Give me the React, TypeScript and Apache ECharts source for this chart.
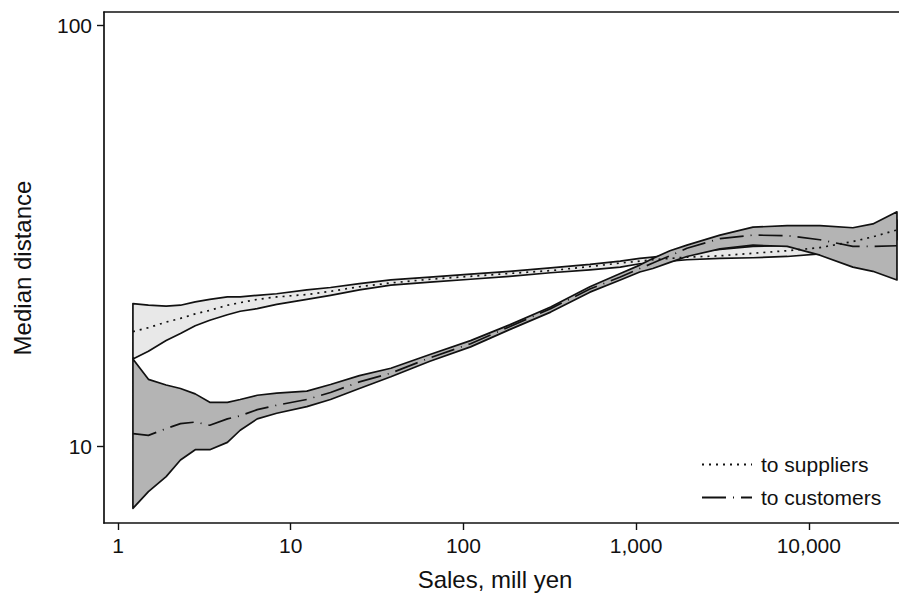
import React, { useEffect, useRef } from 'react';
import * as echarts from 'echarts';

// Sales grid (mill yen)
const sales = [1.22, 1.5, 1.9, 2.3, 2.8, 3.4, 4.3, 5.1, 6.4, 8.3, 12.4, 17, 25, 38, 64, 110, 185, 320, 540, 810, 1050, 1250, 1570, 1970, 3060, 4750, 7500, 11600, 18000, 23500, 32400];

// Median distance to suppliers, with confidence band
const suppliersMedian = [18.7, 19.1, 19.7, 20.1, 20.6, 21.0, 21.6, 21.9, 22.3, 22.6, 22.9, 23.3, 23.9, 24.4, 24.9, 25.3, 25.7, 26.1, 26.7, 27.2, 27.5, 27.7, 27.9, 28.1, 28.3, 28.7, 29.1, 29.6, 30.6, 31.4, 32.6];
const suppliersUpper = [21.8, 21.6, 21.5, 21.6, 22.0, 22.3, 22.6, 22.6, 22.8, 23.0, 23.5, 23.8, 24.3, 24.8, 25.2, 25.6, 26.0, 26.5, 27.0, 27.5, 27.9, 28.1, 28.4, 28.8, 29.3, 29.8, 29.9, 30.5, 31.9, 32.9, 34.4];
const suppliersLower = [16.1, 16.8, 17.8, 18.5, 19.3, 19.9, 20.5, 20.9, 21.2, 21.7, 22.3, 22.8, 23.5, 24.1, 24.5, 24.9, 25.3, 25.8, 26.2, 26.6, 27.1, 27.2, 27.5, 27.7, 27.9, 28.0, 28.2, 28.6, 29.2, 29.9, 30.9];

// Median distance to customers, with confidence band
const customersMedian = [10.7, 10.6, 11.0, 11.3, 11.4, 11.2, 11.6, 11.8, 12.2, 12.5, 12.9, 13.4, 14.2, 14.9, 16.2, 17.5, 19.2, 21.2, 23.6, 25.2, 26.4, 27.2, 28.3, 29.5, 31.1, 31.7, 31.6, 30.9, 29.8, 29.8, 29.9];
const customersUpper = [16.1, 14.4, 13.96, 13.7, 13.3, 12.7, 12.7, 12.9, 13.2, 13.35, 13.5, 14.0, 14.7, 15.3, 16.5, 17.8, 19.4, 21.4, 23.9, 25.7, 26.9, 27.9, 29.1, 30.0, 31.7, 33.1, 33.4, 33.4, 33.0, 33.7, 36.0];
const customersLower = [7.11, 7.79, 8.46, 9.26, 9.8, 9.8, 10.2, 10.9, 11.6, 11.96, 12.4, 12.9, 13.7, 14.6, 15.9, 17.2, 18.9, 20.8, 23.2, 24.8, 25.9, 26.4, 27.3, 28.2, 29.4, 30.0, 29.8, 28.4, 26.6, 26.0, 24.8];

const xTicks = [1, 10, 100, 1000, 10000];
const yTicks = [10, 100];

const FONT = '"Liberation Sans", Arial, Helvetica, sans-serif';

const fmt = (v: number) => String(Math.round(v)).replace(/\B(?=(\d{3})+(?!\d))/g, ',');

function band(name: string, lower: number[], upper: number[], fill: string, z: number) {
  return {
    type: 'custom',
    name,
    coordinateSystem: 'cartesian2d',
    silent: true,
    z,
    data: [[sales[0], lower[0]]],
    encode: { x: 0, y: 1 },
    renderItem: (_params: any, api: any) => {
      const pts: number[][] = [];
      for (let i = 0; i < sales.length; i++) pts.push(api.coord([sales[i], upper[i]]));
      for (let i = sales.length - 1; i >= 0; i--) pts.push(api.coord([sales[i], lower[i]]));
      return {
        type: 'polygon',
        shape: { points: pts },
        style: { fill, stroke: '#111', lineWidth: 1.7, lineJoin: 'round' },
      };
    },
  };
}

export default function App() {
  const ref = useRef<HTMLDivElement>(null);
  useEffect(() => {
    if (!ref.current) return;
    const chart = echarts.init(ref.current, undefined, { renderer: 'svg' });
    const xMin = 0.8297, xMax = 33290, yMin = 6.563, yMax = 107.4;
    const axisLine = { show: true, onZero: false, lineStyle: { color: '#111', width: 1.7 } };
    chart.setOption({
      animation: false,
      backgroundColor: '#fff',
      grid: { left: 104, right: 0, top: 12, bottom: 72, containLabel: false },
      xAxis: [
        {
          type: 'log', logBase: 10, min: xMin, max: xMax, position: 'bottom',
          axisLine,
          axisTick: { show: true, length: 7, customValues: xTicks, lineStyle: { color: '#111', width: 1.4 } },
          axisLabel: { customValues: xTicks, formatter: (v: number) => fmt(v), fontSize: 21, color: '#111', fontFamily: FONT, margin: 12 },
          splitLine: { show: false }, minorTick: { show: false },
        },
        {
          type: 'log', logBase: 10, min: xMin, max: xMax, position: 'top',
          axisLine, axisTick: { show: false }, axisLabel: { show: false }, splitLine: { show: false },
        },
      ],
      yAxis: {
        type: 'log', logBase: 10, min: yMin, max: yMax,
        axisLine,
        axisTick: { show: true, length: 7, customValues: yTicks, lineStyle: { color: '#111', width: 1.4 } },
        axisLabel: { customValues: yTicks, formatter: (v: number) => fmt(v), fontSize: 21, color: '#111', fontFamily: FONT, margin: 12 },
        splitLine: { show: false }, minorTick: { show: false },
      },
      legend: {
        orient: 'vertical', left: 696, top: 449,
        data: ['to suppliers', 'to customers'],
        itemWidth: 50, itemHeight: 20, itemGap: 12,
        itemStyle: { opacity: 0 },
        textStyle: { fontSize: 21, fontFamily: FONT, color: '#111', lineHeight: 20, padding: [0, 0, 0, 4] },
        selectedMode: false,
      },
      graphic: [
        {
          type: 'text', x: 22, y: 268, rotation: Math.PI / 2,
          style: { text: 'Median distance', fontSize: 24, fontFamily: FONT, fill: '#111', align: 'center', verticalAlign: 'middle' },
        },
        {
          type: 'text', x: 495, y: 579,
          style: { text: 'Sales, mill yen', fontSize: 24, fontFamily: FONT, fill: '#111', align: 'center', verticalAlign: 'middle' },
        },
      ],
      series: [
        band('suppliers band', suppliersLower, suppliersUpper, '#e8e8e8', 1),
        band('customers band', customersLower, customersUpper, '#b4b4b4', 2),
        {
          type: 'line', name: 'to suppliers', z: 5, symbol: 'none', silent: true,
          data: sales.map((x, i) => [x, suppliersMedian[i]]),
          lineStyle: { color: '#111', width: 1.7, type: [2, 5] },
        },
        {
          type: 'line', name: 'to customers', z: 5, symbol: 'none', silent: true,
          data: sales.map((x, i) => [x, customersMedian[i]]),
          lineStyle: { color: '#111', width: 1.7, type: [24, 7, 1, 7] },
        },
      ],
    });
    return () => chart.dispose();
  }, []);
  return <div ref={ref} style={{ position: 'absolute', left: 0, top: 0, width: 899, height: 595 }} />;
}
